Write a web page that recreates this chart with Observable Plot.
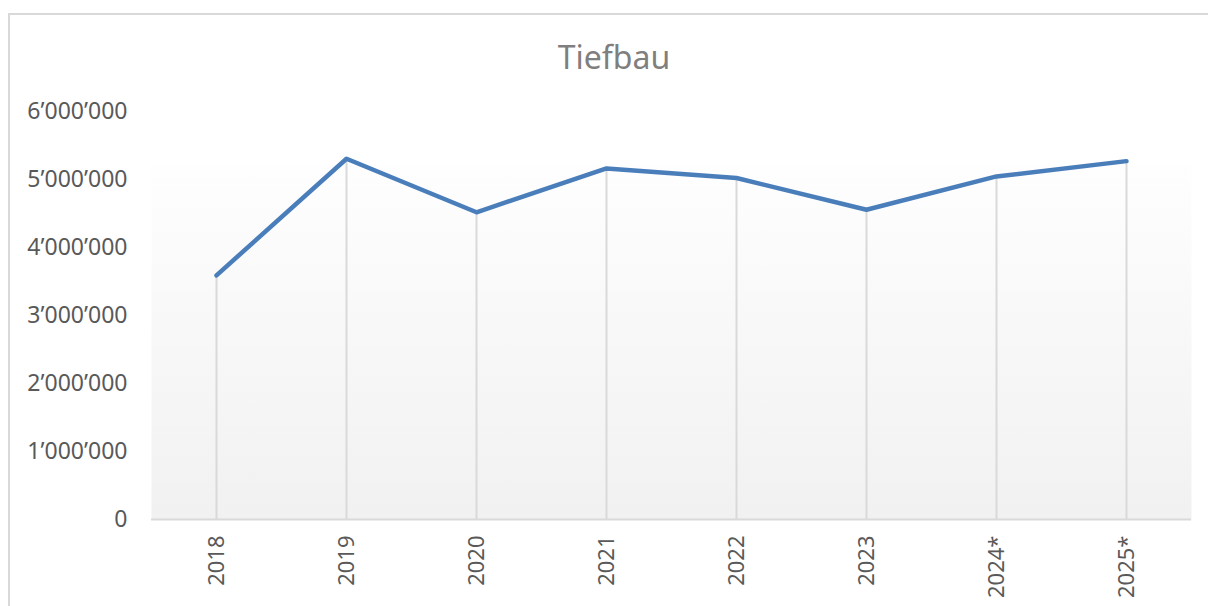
<!DOCTYPE html>
<html>
<head>
<meta charset="utf-8">
<script src="https://cdn.jsdelivr.net/npm/d3@7"></script>
<script src="https://cdn.jsdelivr.net/npm/@observablehq/plot@0.6"></script>
<style>
  html, body { margin: 0; padding: 0; background: #fff; overflow: hidden; }
  #wrap { position: relative; width: 1208px; height: 606px; }
  #frame { position: absolute; left: 8px; top: 13px; width: 1220px; height: 620px; border: 2px solid #d9d9d9; box-sizing: border-box; }
  #title { position: absolute; left: 0; top: 41px; width: 1228px; text-align: center; font-family: "Noto Sans", sans-serif; font-size: 32px; color: #7f7f7f; line-height: 1; }
  #chart { position: absolute; left: 0; top: 0; }
</style>
</head>
<body>
<div id="wrap">
  <div id="frame"></div>
  <div id="title">Tiefbau</div>
  <div id="chart"></div>
</div>
<script>
const years = ["2018", "2019", "2020", "2021", "2022", "2023", "2024*", "2025*"];
const values = [3590000, 5305000, 4518000, 5162000, 5022000, 4555000, 5045000, 5270000];
const yTicks = [0, 1000000, 2000000, 3000000, 4000000, 5000000, 6000000];

const data = years.map((y, i) => ({year: y, value: values[i]}));
const fmt = v => d3.format(",")(v).replace(/,/g, "\u2019");

const defs = () => {
  const d = d3.create("svg:defs");
  const g = d.append("linearGradient").attr("id", "bg").attr("x1", 0).attr("y1", 0).attr("x2", 0).attr("y2", 1);
  g.append("stop").attr("offset", "0%").attr("stop-color", "#ffffff");
  g.append("stop").attr("offset", "13%").attr("stop-color", "#ffffff");
  g.append("stop").attr("offset", "13.2%").attr("stop-color", "#fefefe");
  g.append("stop").attr("offset", "100%").attr("stop-color", "#f1f1f1");
  return d.node();
};

const chart = Plot.plot({
  width: 1208,
  height: 606,
  marginLeft: 151,
  marginRight: 17,
  marginTop: 111,
  marginBottom: 87,
  style: {fontFamily: "'Noto Sans', sans-serif", fontSize: "22px", color: "#595959", background: "transparent", overflow: "visible"},
  x: {type: "band", domain: years, padding: 0, label: null},
  y: {domain: [0, 6000000], label: null},
  marks: [
    defs,
    Plot.frame({fill: "url(#bg)", stroke: null}),
    Plot.ruleX(data, {x: "year", y1: 0, y2: "value", stroke: "#d9d9d9", strokeWidth: 2}),
    Plot.ruleY([0], {stroke: "#d9d9d9", strokeWidth: 2}),
    Plot.axisY({ticks: yTicks, tickFormat: fmt, tickSize: 0, tickPadding: 24, fontSize: 23, fill: "#595959"}),
    Plot.axisX({tickSize: 0, tickPadding: 16, tickRotate: -90, fontSize: 22, fill: "#595959"}),
    Plot.line(data, {x: "year", y: "value", stroke: "#4a7ebb", strokeWidth: 4.5, strokeLinejoin: "round", strokeLinecap: "round"})
  ]
});
document.getElementById("chart").appendChild(chart);
</script>
</body>
</html>
